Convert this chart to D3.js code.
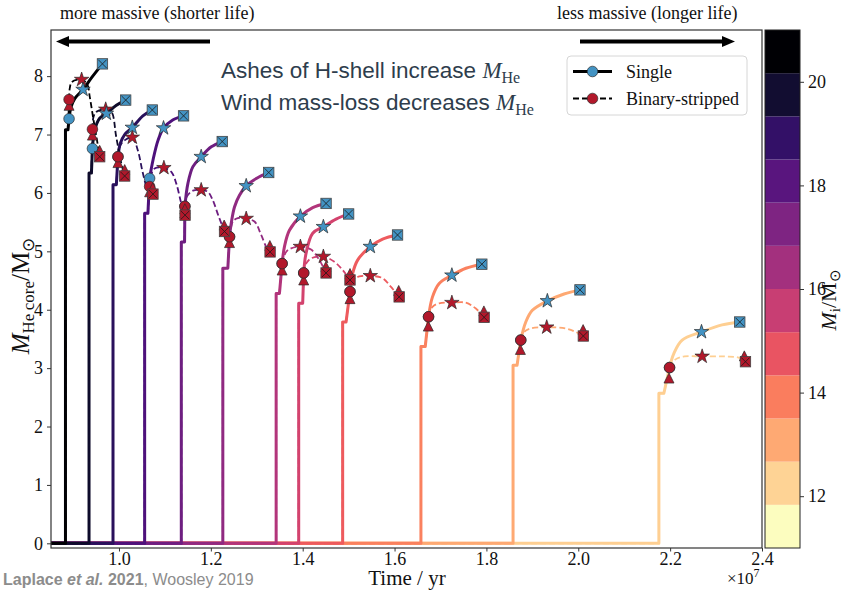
<!DOCTYPE html>
<html>
<head>
<meta charset="utf-8">
<script src="https://cdn.jsdelivr.net/npm/d3@7"></script>
<style>
  body { margin: 0; background: #fff; }
  svg { display: block; }
</style>
</head>
<body>
<svg id="chart" width="845" height="592"></svg>
<script>
// ---- data: time in units of 1e7 yr, helium core mass in Msun ----
const xTicks = [1.0, 1.2, 1.4, 1.6, 1.8, 2.0, 2.2, 2.4];
const yTicks = [0, 1, 2, 3, 4, 5, 6, 7, 8];
const cbTicks = [12, 14, 16, 18, 20];
const cbRange = [11, 21];
const cbLevels = 12;

// time at which the core mass first jumps off zero, then a small step
const riseTime = [0.8835, 0.9348, 0.987, 1.0559, 1.1357, 1.2261, 1.3422, 1.3913, 1.487, 1.6574, 1.858, 2.1755];
const stepMass = [7.08, 6.34, 6.14, 5.65, 5.16, 4.71, 4.28, 4.11, 3.79, 3.37, 3.05, 2.57];
const stepTime = [0.889, 0.94, 0.9943, 1.063, 1.1428, 1.237, 1.3494, 1.40, 1.4944, 1.6668, 1.8667, 2.1864];

// single-star tracks: from the circle marker to the final (square) point
const singleCurve = [
  [[0.8913, 7.27], [0.8955, 7.47], [0.904, 7.62], [0.9217, 7.77], [0.94, 7.97], [0.964, 8.21]],
  [[0.9422, 6.76], [0.9472, 7.08], [0.958, 7.28], [0.9726, 7.36], [0.9943, 7.50], [1.0146, 7.59]],
  [[0.9978, 6.62], [1.003, 6.85], [1.0124, 7.00], [1.029, 7.12], [1.052, 7.32], [1.0726, 7.42]],
  [[1.0667, 6.25], [1.074, 6.56], [1.085, 6.90], [1.097, 7.11], [1.117, 7.25], [1.1406, 7.32]],
  [[1.1435, 5.77], [1.150, 6.16], [1.161, 6.45], [1.179, 6.62], [1.201, 6.79], [1.2248, 6.88]],
  [[1.2407, 5.25], [1.2444, 5.48], [1.2515, 5.76], [1.2624, 5.96], [1.277, 6.12], [1.300, 6.25], [1.326, 6.35]],
  [[1.3552, 4.79], [1.3603, 5.08], [1.3711, 5.36], [1.395, 5.60], [1.4218, 5.75], [1.4509, 5.82]],
  [[1.4022, 4.63], [1.4074, 4.97], [1.4218, 5.31], [1.445, 5.42], [1.4726, 5.55], [1.500, 5.64]],
  [[1.503, 4.31], [1.5087, 4.62], [1.5196, 4.85], [1.5472, 5.08], [1.574, 5.21], [1.6065, 5.28]],
  [[1.674, 3.88], [1.6826, 4.22], [1.6972, 4.45], [1.7248, 4.59], [1.7553, 4.71], [1.790, 4.78]],
  [[1.8748, 3.48], [1.8857, 3.79], [1.900, 3.99], [1.9327, 4.15], [1.969, 4.27], [2.0037, 4.34]],
  [[2.1987, 3.01], [2.208, 3.25], [2.2262, 3.48], [2.2683, 3.62], [2.313, 3.74], [2.3516, 3.79]]
];
const singleStar = [[0.9217, 7.77], [0.9726, 7.36], [1.029, 7.12], [1.097, 7.11], [1.179, 6.62], [1.277, 6.12],
  [1.395, 5.60], [1.445, 5.42], [1.5472, 5.08], [1.7248, 4.59], [1.9327, 4.15], [2.2683, 3.62]];

// binary-stripped tracks: from the circle marker to the final (square) point
const binaryCurve = [
  [[0.8913, 7.60], [0.893, 7.80], [0.8975, 7.90], [0.9187, 7.94], [0.931, 7.86], [0.9363, 7.65], [0.9435, 7.30], [0.9509, 6.96], [0.958, 6.62]],
  [[0.9422, 7.09], [0.9445, 7.30], [0.951, 7.39], [0.9711, 7.43], [0.9835, 7.39], [0.994, 6.96], [1.005, 6.51], [1.0124, 6.29]],
  [[0.9978, 6.62], [1.002, 6.80], [1.012, 6.90], [1.029, 6.95], [1.041, 6.73], [1.052, 6.34], [1.063, 6.05], [1.074, 5.98]],
  [[1.0667, 6.11], [1.070, 6.30], [1.0776, 6.42], [1.0978, 6.43], [1.114, 6.36], [1.1248, 6.16], [1.1357, 5.82], [1.1439, 5.62]],
  [[1.1435, 5.77], [1.148, 5.94], [1.161, 6.04], [1.179, 6.05], [1.1935, 6.02], [1.204, 5.88], [1.2174, 5.59], [1.2298, 5.34]],
  [[1.2407, 5.25], [1.248, 5.51], [1.2587, 5.57], [1.277, 5.56], [1.295, 5.51], [1.3096, 5.28], [1.3205, 5.08], [1.329, 4.99]],
  [[1.3552, 4.79], [1.3639, 4.99], [1.3748, 5.05], [1.395, 5.08], [1.4183, 5.03], [1.4363, 4.85], [1.4509, 4.63]],
  [[1.4022, 4.63], [1.4074, 4.79], [1.4183, 4.88], [1.445, 4.91], [1.469, 4.82], [1.487, 4.68], [1.503, 4.51]],
  [[1.503, 4.31], [1.5087, 4.52], [1.5233, 4.57], [1.5472, 4.58], [1.574, 4.54], [1.5922, 4.39], [1.610, 4.22]],
  [[1.674, 3.88], [1.6826, 4.05], [1.6972, 4.11], [1.7248, 4.12], [1.7553, 4.12], [1.777, 4.02], [1.795, 3.87]],
  [[1.8748, 3.48], [1.882, 3.62], [1.8965, 3.68], [1.9313, 3.70], [1.9726, 3.68], [1.9944, 3.62], [2.011, 3.55]],
  [[2.1987, 3.01], [2.2118, 3.15], [2.231, 3.20], [2.2697, 3.20], [2.320, 3.20], [2.349, 3.18], [2.364, 3.11]]
];
const binaryStar = [[0.9187, 7.94], [0.9711, 7.43], [1.029, 6.95], [1.0978, 6.43], [1.179, 6.05], [1.277, 5.56],
  [1.395, 5.08], [1.445, 4.91], [1.5472, 4.58], [1.7248, 4.12], [1.9313, 3.70], [2.2697, 3.20]];
const startTri = [[0.8913, 7.50], [0.9422, 6.99], [0.9978, 6.52], [1.0667, 6.02], [1.1435, 5.66], [1.2407, 5.15],
  [1.3552, 4.68], [1.4022, 4.51], [1.503, 4.19], [1.6735, 3.72], [1.874, 3.32], [2.1975, 2.83]];
const endTri = [[0.958, 6.73], [1.0124, 6.40], [1.0735, 6.09], [1.1435, 5.73], [1.229, 5.45], [1.3285, 5.10],
  [1.4505, 4.74], [1.503, 4.62], [1.609, 4.33], [1.7945, 3.98], [2.0105, 3.66], [2.3615, 3.21]];

// ---- layout ----
const SERIF = "'Liberation Serif','Times New Roman',serif";
const SANS = "'Liberation Sans',Arial,sans-serif";
const BLUE = "#4393c3", RED = "#b2182b", EDGE = "#2b2b2b";
const P = { left: 51, right: 762, top: 30, bottom: 548 };

const svg = d3.select("#chart");
const x = d3.scaleLinear().domain([0.852, 2.4]).range([P.left, P.right]);
const y = d3.scaleLinear().domain([-0.08, 8.79]).range([P.bottom, P.top]);
const trackColor = i => d3.interpolateMagma(i * 0.9 / 11);

svg.append("defs").append("clipPath").attr("id", "plotClip").append("rect")
  .attr("x", P.left).attr("y", P.top).attr("width", P.right - P.left).attr("height", P.bottom - P.top);

const gData = svg.append("g").attr("clip-path", "url(#plotClip)");
const lineLin = d3.line().x(d => x(d[0])).y(d => y(d[1]));
const lineSmooth = d3.line().x(d => x(d[0])).y(d => y(d[1])).curve(d3.curveCatmullRom.alpha(0.5));
const risePts = (i, first) => [[0.80, 0], [riseTime[i], 0], [riseTime[i], stepMass[i]], [stepTime[i], stepMass[i]], first];

// tracks, lighter (longer-lived) first so the darker ones sit on top along zero
const order = d3.range(riseTime.length).reverse();
order.forEach(i => {
  const c = trackColor(i);
  gData.append("path")
    .attr("d", lineLin(risePts(i, singleCurve[i][0])) + lineSmooth(singleCurve[i]))
    .attr("fill", "none").attr("stroke", c).attr("stroke-width", 3)
    .attr("stroke-linejoin", "round");
  gData.append("path")
    .attr("d", lineLin(risePts(i, binaryCurve[i][0])) + lineSmooth(binaryCurve[i]))
    .attr("fill", "none").attr("stroke", c).attr("stroke-width", 1.8)
    .attr("stroke-dasharray", "6,3");
});

// ---- marker shapes ----
function starPath(R) {
  const r = R * 0.382, pts = [];
  for (let k = 0; k < 10; k++) {
    const a = -Math.PI / 2 + k * Math.PI / 5, rad = k % 2 ? r : R;
    pts.push([rad * Math.cos(a), rad * Math.sin(a)]);
  }
  return "M" + pts.map(p => p.join(",")).join("L") + "Z";
}
const triPath = s => `M0,${-s / 2}L${-s / 2},${s / 2}L${s / 2},${s / 2}Z`;
const gMk = svg.append("g");
function circle(p, fill) {
  gMk.append("circle").attr("cx", x(p[0])).attr("cy", y(p[1])).attr("r", 5.3)
    .attr("fill", fill).attr("stroke", EDGE).attr("stroke-width", 0.7);
}
function star(p, fill) {
  gMk.append("path").attr("d", starPath(7.6)).attr("transform", `translate(${x(p[0])},${y(p[1])})`)
    .attr("fill", fill).attr("stroke", EDGE).attr("stroke-width", 0.7).attr("stroke-linejoin", "miter");
}
function tri(p, fill) {
  gMk.append("path").attr("d", triPath(10)).attr("transform", `translate(${x(p[0])},${y(p[1])})`)
    .attr("fill", fill).attr("stroke", EDGE).attr("stroke-width", 0.7);
}
function xsquare(p, fill) {
  const g = gMk.append("g").attr("transform", `translate(${x(p[0])},${y(p[1])})`);
  const h = 5.2;
  g.append("rect").attr("x", -h).attr("y", -h).attr("width", 2 * h).attr("height", 2 * h)
    .attr("fill", fill).attr("stroke", "#444").attr("stroke-width", 0.8);
  g.append("path").attr("d", `M${-h + 1},${-h + 1}L${h - 1},${h - 1}M${h - 1},${-h + 1}L${-h + 1},${h - 1}`)
    .attr("stroke", "#1a1a1a").attr("stroke-width", 0.8);
}

order.forEach(i => {
  const s = singleCurve[i], b = binaryCurve[i];
  circle(s[0], BLUE);
  tri(startTri[i], RED);
  circle(b[0], RED);
  star(binaryStar[i], RED);
  star(singleStar[i], BLUE);
  tri(endTri[i], RED);
  xsquare(b[b.length - 1], RED);
  xsquare(s[s.length - 1], BLUE);
});

// ---- axes ----
const gx = svg.append("g").attr("transform", `translate(0,${P.bottom})`)
  .call(d3.axisBottom(x).tickValues(xTicks).tickFormat(d3.format(".1f")).tickSize(3.5).tickPadding(0.5));
const gy = svg.append("g").attr("transform", `translate(${P.left},0)`)
  .call(d3.axisLeft(y).tickValues(yTicks).tickFormat(d3.format("d")).tickSize(4).tickPadding(4));
[gx, gy].forEach(g => {
  g.select(".domain").remove();
  g.attr("font-family", SERIF).attr("font-size", 18);
  g.selectAll("text").attr("fill", "#111");
  g.selectAll("line").attr("stroke", "#333").attr("stroke-width", 1);
});

svg.append("rect").attr("x", P.left).attr("y", P.top)
  .attr("width", P.right - P.left).attr("height", P.bottom - P.top)
  .attr("fill", "none").attr("stroke", "#333").attr("stroke-width", 1.2);

// axis titles
svg.append("text").attr("x", 407).attr("y", 585).attr("text-anchor", "middle")
  .attr("font-family", SERIF).attr("font-size", 21).attr("fill", "#111").text("Time / yr");
const sci = svg.append("text").attr("x", 727).attr("y", 584)
  .attr("font-family", SERIF).attr("font-size", 17).attr("fill", "#111");
sci.append("tspan").text("\u00d710");
sci.append("tspan").attr("font-size", 12).attr("dy", -7).text("7");

const yl = svg.append("text").attr("transform", "translate(29,296) rotate(-90)")
  .attr("text-anchor", "middle").attr("font-family", SERIF).attr("font-size", 25).attr("fill", "#111");
yl.append("tspan").attr("font-style", "italic").text("M");
yl.append("tspan").attr("font-size", 17).attr("dy", 5).text("He\u2009core");
yl.append("tspan").attr("dy", -5).text("/M");
yl.append("tspan").attr("font-size", 17).attr("dy", 5).text("\u2299");

// ---- colorbar ----
const cbX0 = 765, cbX1 = 800;
const cb = d3.scaleLinear().domain(cbRange).range([P.bottom, P.top]);
const bandW = (cbRange[1] - cbRange[0]) / cbLevels;
d3.range(cbLevels).forEach(j => {
  const lo = cbRange[0] + j * bandW;
  svg.append("rect").attr("x", cbX0).attr("width", cbX1 - cbX0)
    .attr("y", cb(lo + bandW)).attr("height", cb(lo) - cb(lo + bandW))
    .attr("fill", d3.interpolateMagma(1 - j / (cbLevels - 1)));
});
svg.append("rect").attr("x", cbX0).attr("y", P.top).attr("width", cbX1 - cbX0).attr("height", P.bottom - P.top)
  .attr("fill", "none").attr("stroke", "#222").attr("stroke-width", 1);
const gcb = svg.append("g").attr("transform", `translate(${cbX1},0)`)
  .call(d3.axisRight(cb).tickValues(cbTicks).tickSize(4).tickPadding(4));
gcb.select(".domain").remove();
gcb.attr("font-family", SERIF).attr("font-size", 18);
gcb.selectAll("text").attr("fill", "#111");
gcb.selectAll("line").attr("stroke", "#333");
const cl = svg.append("text").attr("transform", "translate(836,300) rotate(-90)")
  .attr("text-anchor", "middle").attr("font-family", SERIF).attr("font-size", 22).attr("fill", "#111");
cl.append("tspan").attr("font-style", "italic").text("M");
cl.append("tspan").attr("font-size", 15).attr("dy", 4).text("i");
cl.append("tspan").attr("dy", -4).text("/M");
cl.append("tspan").attr("font-size", 15).attr("dy", 4).text("\u2299");

// ---- direction arrows and captions ----
function arrow(x0, x1, yy) {
  const dir = Math.sign(x1 - x0), head = 13, hw = 5.5;
  svg.append("line").attr("x1", x0).attr("x2", x1 - dir * head).attr("y1", yy).attr("y2", yy)
    .attr("stroke", "#000").attr("stroke-width", 4);
  svg.append("path").attr("d", `M${x1},${yy}L${x1 - dir * head},${yy - hw}L${x1 - dir * head},${yy + hw}Z`).attr("fill", "#000");
}
arrow(210, 56, 41.5);
arrow(580, 735, 41.5);
svg.append("text").attr("x", 60).attr("y", 19).attr("font-family", SERIF).attr("font-size", 18)
  .attr("fill", "#111").text("more massive (shorter life)");
svg.append("text").attr("x", 557).attr("y", 19).attr("font-family", SERIF).attr("font-size", 18)
  .attr("fill", "#111").text("less massive (longer life)");

// annotations
const NOTE = "#2e3d4c";
function note(yy, words) {
  const t = svg.append("text").attr("x", 221).attr("y", yy).attr("font-family", SANS)
    .attr("font-size", 22.5).attr("fill", NOTE);
  t.append("tspan").text(words + " ");
  t.append("tspan").attr("font-family", SERIF).attr("font-style", "italic").attr("font-size", 23).text("M");
  t.append("tspan").attr("font-family", SERIF).attr("font-size", 16).attr("dy", 5).text("He");
}
note(78, "Ashes of H-shell increase");
note(110, "Wind mass-loss decreases");

// ---- legend ----
const lg = svg.append("g");
lg.append("rect").attr("x", 567).attr("y", 56).attr("width", 180).attr("height", 59).attr("rx", 4)
  .attr("fill", "#fff").attr("fill-opacity", 0.85).attr("stroke", "#d6d6d6").attr("stroke-width", 1);
lg.append("line").attr("x1", 573).attr("x2", 612).attr("y1", 71.5).attr("y2", 71.5)
  .attr("stroke", "#000").attr("stroke-width", 3);
lg.append("circle").attr("cx", 592.5).attr("cy", 71.5).attr("r", 5.3).attr("fill", BLUE).attr("stroke", EDGE).attr("stroke-width", 0.7);
lg.append("line").attr("x1", 573).attr("x2", 612).attr("y1", 98.5).attr("y2", 98.5)
  .attr("stroke", "#000").attr("stroke-width", 1.8).attr("stroke-dasharray", "6,3");
lg.append("circle").attr("cx", 592.5).attr("cy", 98.5).attr("r", 5.3).attr("fill", RED).attr("stroke", EDGE).attr("stroke-width", 0.7);
lg.append("text").attr("x", 626).attr("y", 77.5).attr("font-family", SERIF).attr("font-size", 18).attr("fill", "#111").text("Single");
lg.append("text").attr("x", 626).attr("y", 104.5).attr("font-family", SERIF).attr("font-size", 18).attr("fill", "#111").text("Binary-stripped");

// ---- source credit ----
const cr = svg.append("text").attr("x", 3).attr("y", 585).attr("font-family", SANS)
  .attr("font-size", 16).attr("fill", "#8c8c8c");
cr.append("tspan").attr("font-weight", "bold").text("Laplace ");
cr.append("tspan").attr("font-weight", "bold").attr("font-style", "italic").text("et al.");
cr.append("tspan").attr("font-weight", "bold").text(" 2021");
cr.append("tspan").text(", Woosley 2019");
</script>
</body>
</html>
